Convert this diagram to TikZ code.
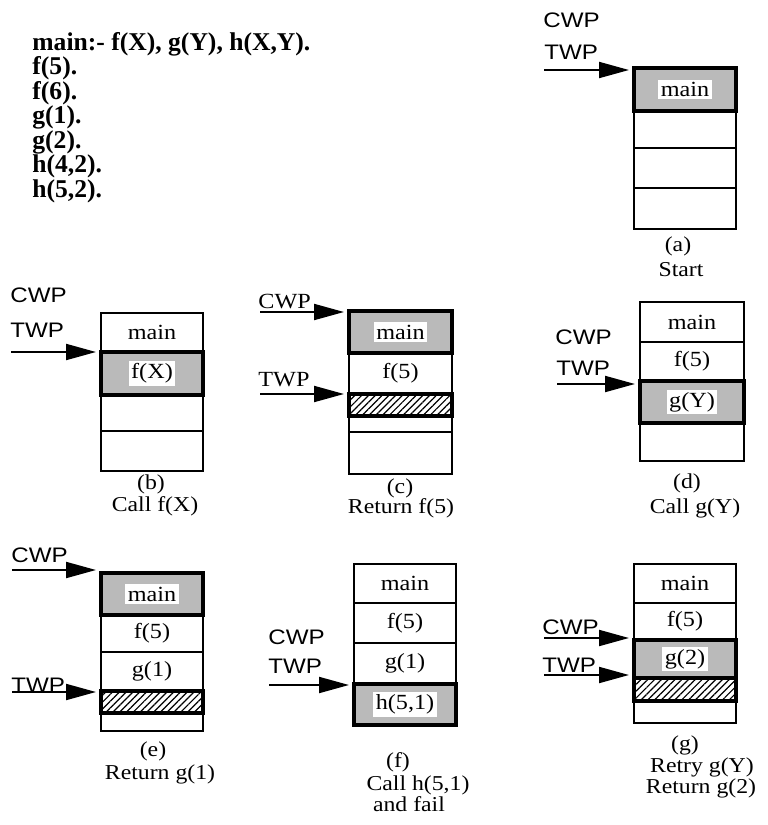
\documentclass[tikz,border=0pt]{standalone}
\usepackage{fontspec}
\setmainfont{Liberation Serif}[FakeStretch=1.12]
\newfontfamily\arialf{Liberation Sans}[FakeStretch=1.15]
\newfontfamily\codef{Liberation Serif}
\usetikzlibrary{fit,arrows.meta,patterns.meta}
\begin{document}
\begin{tikzpicture}[x=0.5pt,y=-0.5pt,
  cell/.style={draw, line width=1pt, inner sep=0pt, outer sep=0pt},
  hot/.style={draw, line width=2.4pt, inner sep=0pt, outer sep=0pt, fill=black!27},
  hatchbox/.style={draw, line width=2.4pt, inner sep=0pt, outer sep=0pt, pattern={Lines[angle=45,distance=2.4pt,line width=0.6pt]}},
  lbl/.style={font=\fontsize{10.8}{12}\selectfont, inner sep=1.2pt},
  hotlbl/.style={lbl, fill=white},
  ptrtxt/.style={font=\arialf\fontsize{10.5}{12}\selectfont, anchor=west, inner sep=0pt},
  ptrser/.style={font=\fontsize{10.8}{12}\selectfont, anchor=west, inner sep=0pt},
  ptr/.style={line width=1pt, -{Triangle[length=15pt,width=8pt]}, shorten >=2.5pt},
  capt/.style={font=\fontsize{10.6}{12}\selectfont, inner sep=0pt, anchor=base, text depth=0pt},
  code/.style={font=\codef\bfseries\fontsize{12.8}{14}\selectfont, anchor=base west, inner sep=0pt}
]
\useasboundingbox (0,0) rectangle (767,825);

% ---- program text
\node[code] (p1) at (32,50) {main:- f(X), g(Y), h(X,Y).};
\node[code] (p2) at (32,74.5) {f(5).};
\node[code] (p3) at (32,99) {f(6).};
\node[code] (p4) at (32,123.5) {g(1).};
\node[code] (p5) at (32,148) {g(2).};
\node[code] (p6) at (32,172.5) {h(4,2).};
\node[code] (p7) at (32,197) {h(5,2).};

% ---- (a)
\node[cell, fit={(634,111)(736,148)}] (a2) {};
\node[cell, fit={(634,148)(736,188)}] (a3) {};
\node[cell, fit={(634,188)(736,229)}] (a4) {};
\node[hot, fit={(634,68)(736,111)}] (a1) {};
\node[hotlbl] (a1t) at (a1.center) {main};
\node[ptrtxt] (aCWP) at (543,20) {CWP};
\node[ptrtxt] (aTWP) at (544,52) {TWP};
\coordinate (aT) at (544,70);
\draw[ptr] (aT) -- (aT -| a1.west);
\node[capt] (acap1) at (678,251) {(a)};
\node[capt] (acap2) at (681,276) {Start};

% ---- (b)
\node[cell, fit={(101,313)(203,352)}] (b1) {};
\node[cell, fit={(101,395)(203,431)}] (b3) {};
\node[cell, fit={(101,431)(203,471)}] (b4) {};
\node[hot, fit={(101,352)(203,395)}] (b2) {};
\node[lbl] (b1t) at (b1.center) {main};
\node[hotlbl] (b2t) at (b2.center) {f(X)};
\node[ptrtxt] (bCWP) at (10,295) {CWP};
\node[ptrtxt] (bTWP) at (10,330) {TWP};
\coordinate (bT) at (11,352);
\draw[ptr] (bT) -- (bT -| b2.west);
\node[capt] (bcap1) at (151,489) {(b)};
\node[capt] (bcap2) at (155,511) {Call f(X)};

% ---- (c)
\node[cell, fit={(349,353)(452,394)}] (c2) {};
\node[cell, fit={(349,416)(452,432)}] (c4) {};
\node[cell, fit={(349,432)(452,474)}] (c5) {};
\node[hot, fit={(349,311)(452,353)}] (c1) {};
\node[hatchbox, fit={(349,394)(452,416)}] (c3) {};
\node[hotlbl] (c1t) at (c1.center) {main};
\node[lbl] (c2t) at (c2.center) {f(5)};
\node[ptrser] (cCWP) at (258,302) {CWP};
\node[ptrser] (cTWP) at (258,380) {TWP};
\coordinate (cC) at (260,312);
\coordinate (cT) at (260,394);
\draw[ptr] (cC) -- (cC -| c1.west);
\draw[ptr] (cT) -- (cT -| c3.west);
\node[capt] (ccap1) at (400,493) {(c)};
\node[capt] (ccap2) at (401,513) {Return f(5)};

% ---- (d)
\node[cell, fit={(640,302)(744,342)}] (d1) {};
\node[cell, fit={(640,342)(744,381)}] (d2) {};
\node[cell, fit={(640,423)(744,461)}] (d4) {};
\node[hot, fit={(640,381)(744,423)}] (d3) {};
\node[lbl] (d1t) at (d1.center) {main};
\node[lbl] (d2t) at (d2.center) {f(5)};
\node[hotlbl] (d3t) at (d3.center) {g(Y)};
\node[ptrtxt] (dCWP) at (555,337) {CWP};
\node[ptrtxt] (dTWP) at (556,368) {TWP};
\coordinate (dT) at (557,384);
\draw[ptr] (dT) -- (dT -| d3.west);
\node[capt] (dcap1) at (687,488) {(d)};
\node[capt] (dcap2) at (695,513) {Call g(Y)};

% ---- (e)
\node[cell, fit={(101,615)(203,652)}] (e2) {};
\node[cell, fit={(101,652)(203,691)}] (e3) {};
\node[cell, fit={(101,713)(203,731)}] (e5) {};
\node[hot, fit={(101,573)(203,615)}] (e1) {};
\node[hatchbox, fit={(101,691)(203,713)}] (e4) {};
\node[hotlbl] (e1t) at (e1.center) {main};
\node[lbl] (e2t) at (e2.center) {f(5)};
\node[lbl] (e3t) at (e3.center) {g(1)};
\node[ptrtxt] (eCWP) at (11,555) {CWP};
\node[ptrtxt] (eTWP) at (11,685) {TWP};
\coordinate (eC) at (12,570);
\coordinate (eT) at (12,692);
\draw[ptr] (eC) -- (eC -| e1.west);
\draw[ptr] (eT) -- (eT -| e4.west);
\node[capt] (ecap1) at (153,756) {(e)};
\node[capt] (ecap2) at (160,779) {Return g(1)};

% ---- (f)
\node[cell, fit={(354,564)(456,603)}] (f1) {};
\node[cell, fit={(354,603)(456,643)}] (f2) {};
\node[cell, fit={(354,643)(456,684)}] (f3) {};
\node[hot, fit={(354,684)(456,725)}] (f4) {};
\node[lbl] (f1t) at (f1.center) {main};
\node[lbl] (f2t) at (f2.center) {f(5)};
\node[lbl] (f3t) at (f3.center) {g(1)};
\node[hotlbl] (f4t) at (f4.center) {h(5,1)};
\node[ptrtxt] (fCWP) at (268,637) {CWP};
\node[ptrtxt] (fTWP) at (268,666) {TWP};
\coordinate (fT) at (269,685);
\draw[ptr] (fT) -- (fT -| f4.west);
\node[capt] (fcap1) at (398,767) {(f)};
\node[capt] (fcap2) at (418,790) {Call h(5,1)};
\node[capt] (fcap3) at (409,811) {and fail};

% ---- (g)
\node[cell, fit={(634,564)(736,603)}] (g1) {};
\node[cell, fit={(634,603)(736,640)}] (g2) {};
\node[cell, fit={(634,701)(736,723)}] (g5) {};
\node[hot, fit={(634,640)(736,678)}] (g3) {};
\node[hatchbox, fit={(634,678)(736,701)}] (g4) {};
\node[lbl] (g1t) at (g1.center) {main};
\node[lbl] (g2t) at (g2.center) {f(5)};
\node[hotlbl] (g3t) at (g3.center) {g(2)};
\node[ptrtxt] (gCWP) at (542,627) {CWP};
\node[ptrtxt] (gTWP) at (542,665) {TWP};
\coordinate (gC) at (544,638);
\coordinate (gT) at (544,675);
\draw[ptr] (gC) -- (gC -| g3.west);
\draw[ptr] (gT) -- (gT -| g3.west);
\node[capt] (gcap1) at (685,750) {(g)};
\node[capt] (gcap2) at (702,772) {Retry g(Y)};
\node[capt] (gcap3) at (701,793) {Return g(2)};
\end{tikzpicture}
\end{document}
